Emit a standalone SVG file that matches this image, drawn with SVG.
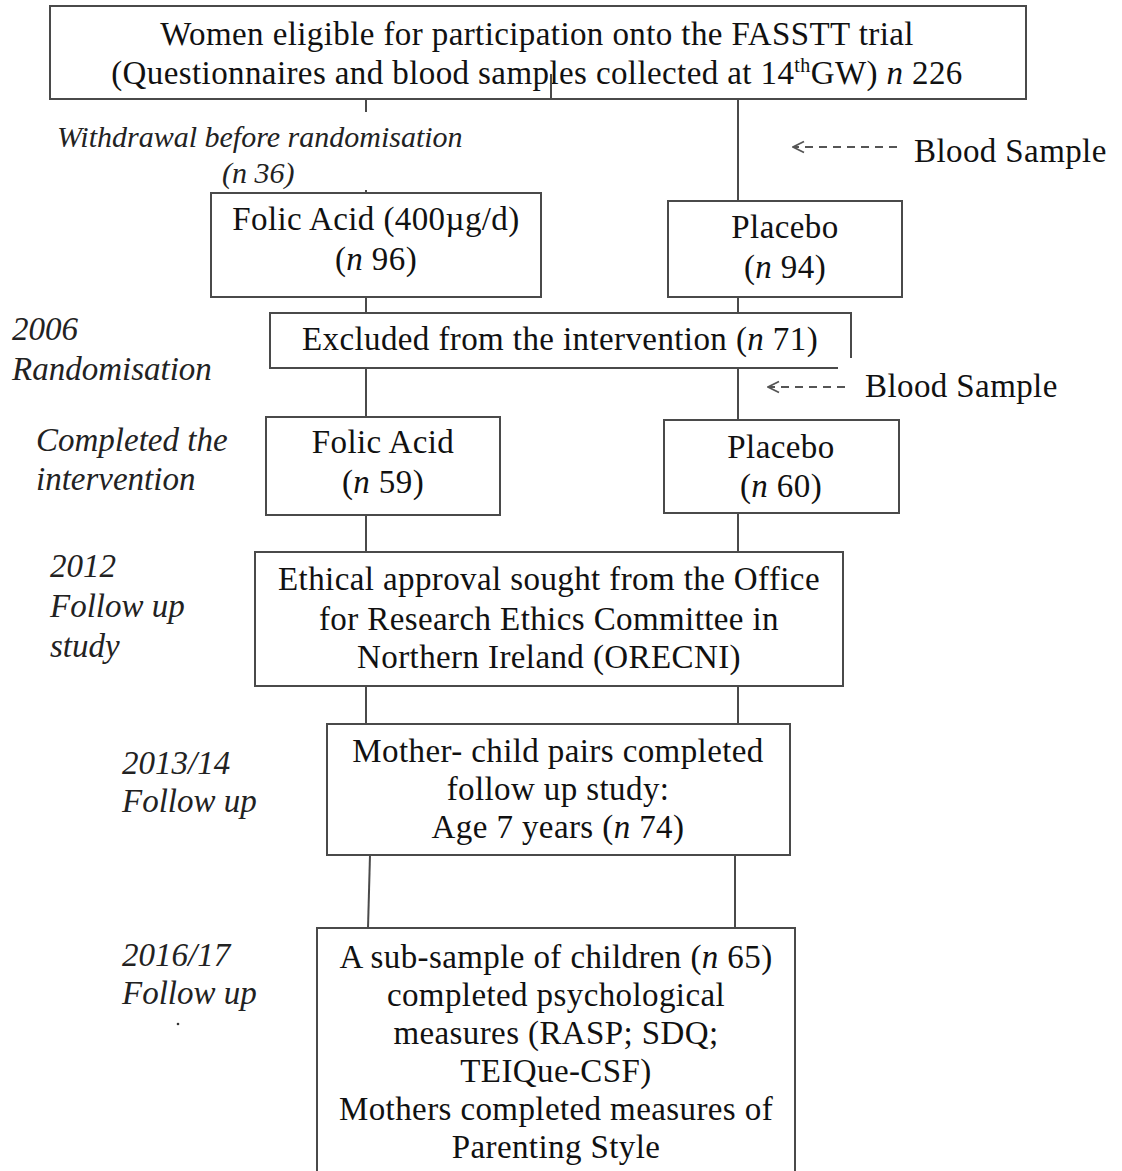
<svg xmlns="http://www.w3.org/2000/svg" width="1122" height="1171" viewBox="0 0 1122 1171">
  <style>
    .box { fill: #ffffff; stroke: #4a4a4a; stroke-width: 2; }
    .link { stroke: #4a4a4a; stroke-width: 2; fill: none; }
    .dash { stroke: #555555; stroke-width: 2; stroke-dasharray: 8 6; fill: none; }
    .t { font-family: "Liberation Serif", "Times New Roman", serif; font-size: 33px; letter-spacing: 0.4px; fill: #111111; }
    .c { text-anchor: middle; }
    .lbl { font-family: "Liberation Serif", "Times New Roman", serif; font-size: 33px; font-style: italic; fill: #222222; }
    .lbl.small { font-size: 30px; }
    .it { font-style: italic; }
    .pad { fill: #ffffff; stroke: none; }
  </style>
  <defs>
    <!-- open chevron head for the dashed pointers -->
    <marker id="open" viewBox="0 0 14 14" refX="13" refY="7" markerWidth="14" markerHeight="14" markerUnits="userSpaceOnUse" orient="auto">
      <path d="M2,1.5 L13,7 L2,12.5" fill="none" stroke="#555555" stroke-width="1.8"/>
    </marker>
  </defs>

  <rect width="1122" height="1171" fill="#ffffff"/>

  <!-- connectors -->
  <g id="connectors">
    <line class="link" x1="366" y1="99" x2="366" y2="193"/>
    <line class="link" x1="738" y1="99" x2="738" y2="201"/>
    <line class="link" x1="366" y1="297" x2="366" y2="313"/>
    <line class="link" x1="738" y1="297" x2="738" y2="313"/>
    <line class="link" x1="366" y1="368" x2="366" y2="417"/>
    <line class="link" x1="738" y1="368" x2="738" y2="420"/>
    <line class="link" x1="366" y1="515" x2="366" y2="552"/>
    <line class="link" x1="738" y1="513" x2="738" y2="552"/>
    <line class="link" x1="366" y1="686" x2="366" y2="724"/>
    <line class="link" x1="738" y1="686" x2="738" y2="724"/>
    <line class="link" x1="370" y1="855" x2="368" y2="928"/>
    <line class="link" x1="735" y1="855" x2="735" y2="928"/>
  </g>

  <!-- top node -->
  <g id="eligible">
    <rect class="box" x="50" y="6" width="976" height="93"/>
    <text class="t c" x="537" y="45">Women eligible for participation onto the FASSTT trial</text>
    <text class="t c" x="537" y="84">(Questionnaires and blood samples collected at 14<tspan style="font-size:20px" dy="-12">th</tspan><tspan dy="12">GW) </tspan><tspan class="it">n</tspan> 226</text>
    <line class="link" x1="551" y1="74" x2="551" y2="100"/>
  </g>

  <!-- withdrawal label -->
  <g id="withdrawal">
    <rect class="pad" x="40" y="112" width="430" height="78"/>
    <text class="lbl small" x="57" y="147">Withdrawal before randomisation</text>
    <text class="lbl small" x="222" y="183">(n 36)</text>
  </g>

  <!-- blood sample (first) -->
  <g id="blood1">
    <line class="dash" x1="897" y1="147" x2="793" y2="147" marker-end="url(#open)"/>
    <text class="t" x="914" y="162">Blood Sample</text>
  </g>

  <!-- randomised arms -->
  <g id="folic1">
    <rect class="box" x="211" y="193" width="330" height="104"/>
    <text class="t c" x="376" y="230">Folic Acid (400µg/d)</text>
    <text class="t c" x="376" y="270">(<tspan class="it">n</tspan> 96)</text>
  </g>
  <g id="placebo1">
    <rect class="box" x="668" y="201" width="234" height="96"/>
    <text class="t c" x="785" y="238">Placebo</text>
    <text class="t c" x="785" y="278">(<tspan class="it">n</tspan> 94)</text>
  </g>

  <!-- exclusions -->
  <g id="excluded">
    <rect class="box" x="270" y="313" width="581" height="55"/>
    <text class="t c" x="560" y="350">Excluded from the intervention (<tspan class="it">n</tspan> 71)</text>
  </g>

  <g id="randomisation-label">
    <text class="lbl" x="12" y="340">2006</text>
    <text class="lbl" x="12" y="380">Randomisation</text>
  </g>

  <!-- blood sample (second) -->
  <g id="blood2">
    <rect class="pad" x="838" y="358" width="268" height="52"/>
    <line class="dash" x1="845" y1="387" x2="768" y2="387" marker-end="url(#open)"/>
    <text class="t" x="865" y="397">Blood Sample</text>
  </g>

  <!-- completed arms -->
  <g id="completed-label">
    <text class="lbl" x="36" y="451">Completed the</text>
    <text class="lbl" x="36" y="490">intervention</text>
  </g>
  <g id="folic2">
    <rect class="box" x="266" y="417" width="234" height="98"/>
    <text class="t c" x="383" y="453">Folic Acid</text>
    <text class="t c" x="383" y="493">(<tspan class="it">n</tspan> 59)</text>
  </g>
  <g id="placebo2">
    <rect class="box" x="664" y="420" width="235" height="93"/>
    <text class="t c" x="781" y="458">Placebo</text>
    <text class="t c" x="781" y="497">(<tspan class="it">n</tspan> 60)</text>
  </g>

  <!-- 2012 follow-up -->
  <g id="followup2012-label">
    <text class="lbl" x="50" y="577">2012</text>
    <text class="lbl" x="50" y="617">Follow up</text>
    <text class="lbl" x="50" y="657">study</text>
  </g>
  <g id="ethics">
    <rect class="box" x="255" y="552" width="588" height="134"/>
    <text class="t c" x="549" y="590">Ethical approval sought from the Office</text>
    <text class="t c" x="549" y="630">for Research Ethics Committee in</text>
    <text class="t c" x="549" y="668">Northern Ireland (ORECNI)</text>
  </g>

  <!-- 2013/14 follow-up -->
  <g id="followup2013-label">
    <text class="lbl" x="122" y="774">2013/14</text>
    <text class="lbl" x="122" y="812">Follow up</text>
  </g>
  <g id="pairs">
    <rect class="box" x="327" y="724" width="463" height="131"/>
    <text class="t c" x="558" y="762">Mother- child pairs completed</text>
    <text class="t c" x="558" y="800">follow up study:</text>
    <text class="t c" x="558" y="838">Age 7 years (<tspan class="it">n</tspan> 74)</text>
  </g>

  <!-- 2016/17 follow-up -->
  <g id="followup2016-label">
    <text class="lbl" x="122" y="966">2016/17</text>
    <text class="lbl" x="122" y="1004">Follow up</text>
    <circle cx="178" cy="1024" r="1.3" fill="#333333"/>
  </g>
  <g id="subsample">
    <rect class="box" x="317" y="928" width="478" height="260"/>
    <text class="t c" x="556" y="968">A sub-sample of children (<tspan class="it">n</tspan> 65)</text>
    <text class="t c" x="556" y="1006">completed psychological</text>
    <text class="t c" x="556" y="1044">measures (RASP; SDQ;</text>
    <text class="t c" x="556" y="1082">TEIQue-CSF)</text>
    <text class="t c" x="556" y="1120">Mothers completed measures of</text>
    <text class="t c" x="556" y="1158">Parenting Style</text>
  </g>
</svg>
